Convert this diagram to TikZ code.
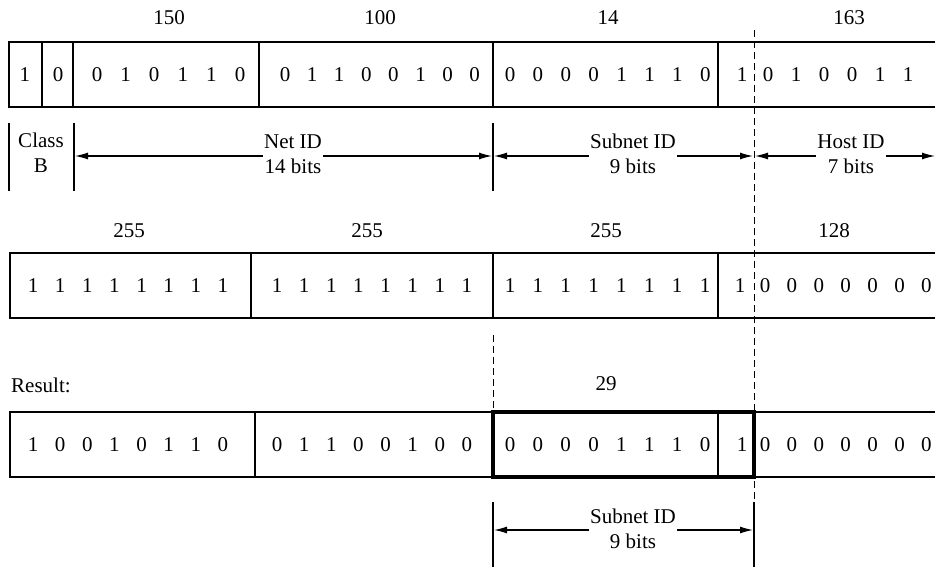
\documentclass[tikz,border=0pt]{standalone}
\usepackage{fontspec}
\setmainfont{Liberation Serif}
\usetikzlibrary{arrows.meta}

% place a run of bits: #1 row name, #2 first x, #3 spacing, #4 y, #5 bits
\newcommand\bitrun[5]{%
  \foreach \b [count=\i from 0] in {#5}
    \node[bit] (#1-\i) at ({#2+#3*\i},#4) {\b};%
}

\begin{document}
\begin{tikzpicture}[x=1pt,y=-1pt,
  frame/.style={line width=1.5pt},
  heavy/.style={line width=3.6pt},
  guide/.style={line width=0.9pt, dash pattern=on 7pt off 4pt},
  bar/.style={line width=1.1pt},
  span/.style={line width=1.2pt, {Latex[length=13pt,width=7pt]}-{Latex[length=13pt,width=7pt]}},
  bit/.style={font=\fontsize{21}{23}\selectfont, inner sep=0pt},
  lbl/.style={font=\fontsize{21}{23}\selectfont, inner sep=0pt},
  tag/.style={font=\fontsize{21}{25}\selectfont, align=center, fill=white, inner sep=1.5pt},
]
\useasboundingbox (0,0) rectangle (935,568);

% ---------- guide lines ----------
\draw[guide] (754,30) -- (754,567);
\draw[guide] (493,335) -- (493,412);

% ---------- address 150.100.14.163 ----------
\node[lbl] (a1) at (169,18) {150};
\node[lbl] (a2) at (380,18) {100};
\node[lbl] (a3) at (608,18) {14};
\node[lbl] (a4) at (849,18) {163};
\draw[frame] (935,42) -- (9,42) -- (9,107) -- (935,107);
\foreach \x in {42,73,259,493,718}
  \draw[frame] (\x,42) -- (\x,107);
\node[bit] (c1) at (25,75) {1};
\node[bit] (c2) at (58,75) {0};
\bitrun{ra}{97}{28.6}{75}{0,1,0,1,1,0}
\bitrun{rb}{285}{27.1}{75}{0,1,1,0,0,1,0,0}
\bitrun{rc}{510}{27.9}{75}{0,0,0,0,1,1,1,0}
\node[bit] (rs) at (742,75) {1};
\bitrun{rd}{768}{28}{75}{0,1,0,0,1,1}

% ---------- field spans ----------
\draw[bar] (9,123) -- (9,191);
\draw[bar] (74,123) -- (74,191);
\draw[bar] (493,123) -- (493,191);
\node[font=\fontsize{21}{25}\selectfont, align=center, inner sep=0pt] (cls) at (41,153) {Class\\B};
\coordinate (netL) at (75,156);
\coordinate (netR) at (492,156);
\coordinate (subL) at (494,156);
\coordinate (subR) at (753,156);
\coordinate (hostL) at (755,156);
\coordinate (hostR) at (935,156);
\draw[span] (netL) -- (netR);
\draw[span] (subL) -- (subR);
\draw[span] (hostL) -- (hostR);
\node[tag] (net) at (293,154) {Net ID\\14 bits};
\node[tag] (sub) at (633,154) {Subnet ID\\9 bits};
\node[tag] (host) at (851,154) {Host ID\\7 bits};

% ---------- mask 255.255.255.128 ----------
\node[lbl] (m1) at (129,231) {255};
\node[lbl] (m2) at (367,231) {255};
\node[lbl] (m3) at (606,231) {255};
\node[lbl] (m4) at (834,231) {128};
\draw[frame] (935,253) -- (10,253) -- (10,318) -- (935,318);
\foreach \x in {251,493,718}
  \draw[frame] (\x,253) -- (\x,318);
\bitrun{ma}{33}{27.14}{286}{1,1,1,1,1,1,1,1}
\bitrun{mb}{277}{27.14}{286}{1,1,1,1,1,1,1,1}
\bitrun{mc}{510}{27.86}{286}{1,1,1,1,1,1,1,1}
\node[bit] (ms) at (740,286) {1};
\bitrun{md}{765}{26.9}{286}{0,0,0,0,0,0,0}

% ---------- result ----------
\node[lbl, anchor=west] (res) at (11,385) {Result:};
\node[lbl] (r29) at (606,384) {29};
\draw[frame] (935,412) -- (10,412) -- (10,477) -- (935,477);
\draw[frame] (255,412) -- (255,477);
\draw[frame] (718,412) -- (718,477);
\draw[heavy] (493,412) rectangle (754,477);
\bitrun{ea}{33}{27.14}{445}{1,0,0,1,0,1,1,0}
\bitrun{eb}{277}{27.14}{445}{0,1,1,0,0,1,0,0}
\bitrun{ec}{510}{27.86}{445}{0,0,0,0,1,1,1,0}
\node[bit] (es) at (742,445) {1};
\bitrun{ed}{765}{26.9}{445}{0,0,0,0,0,0,0}

% ---------- resulting subnet span ----------
\draw[bar] (493,502) -- (493,567);
\draw[bar] (754,502) -- (754,567);
\coordinate (bL) at (494,530);
\coordinate (bR) at (753,530);
\draw[span] (bL) -- (bR);
\node[tag] (bsub) at (633,529) {Subnet ID\\9 bits};
\end{tikzpicture}
\end{document}
